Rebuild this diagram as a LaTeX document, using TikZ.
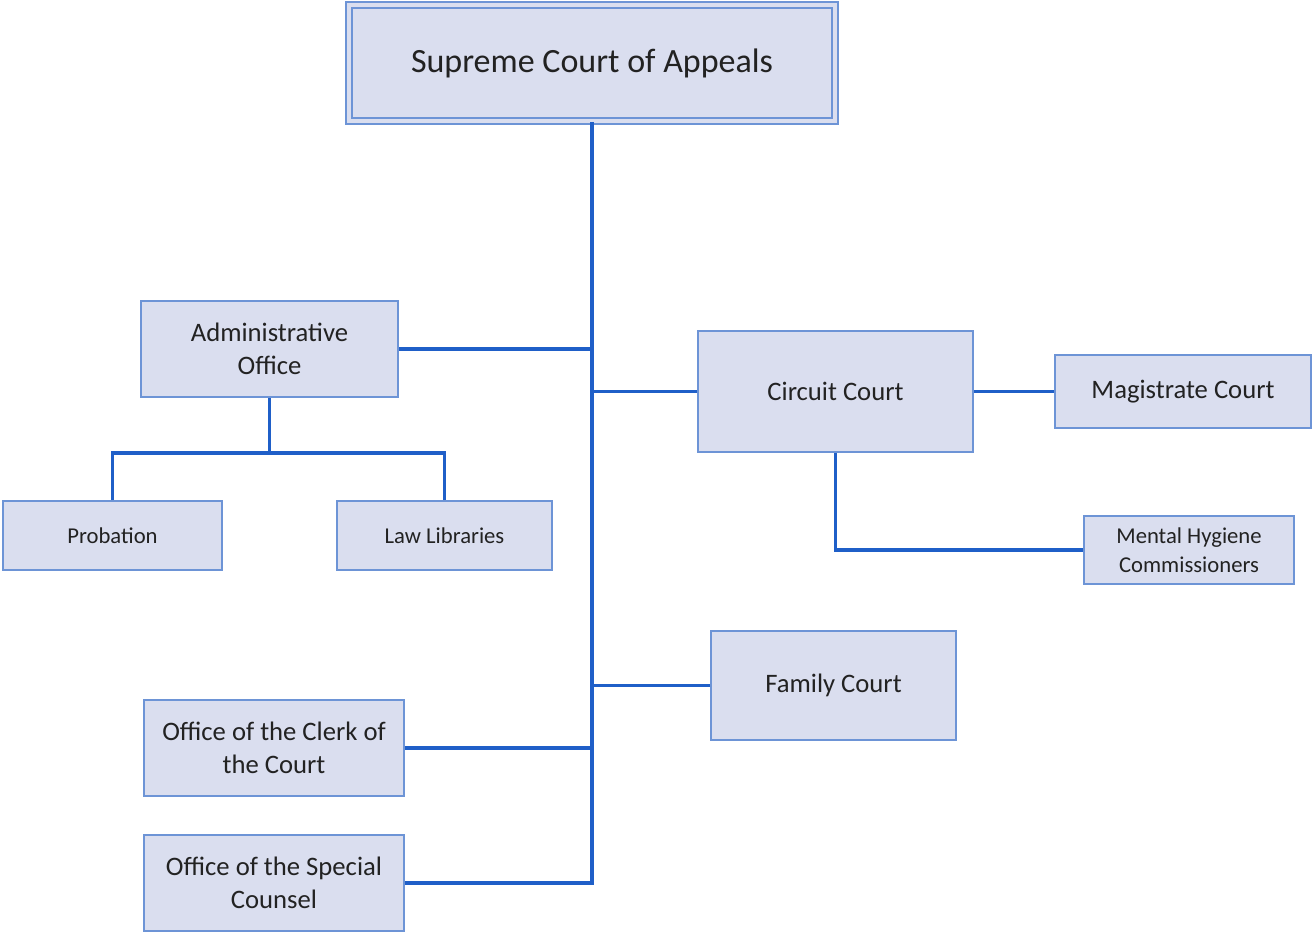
\documentclass[tikz,border=0pt]{standalone}
\usepackage{fontspec}
\setmainfont{Carlito}
\usepackage{tikz}
\usetikzlibrary{shadows}

\definecolor{boxfill}{HTML}{DADEEF}
\definecolor{boxline}{HTML}{6D94D6}
\definecolor{linkline}{HTML}{1F5FC8}
\definecolor{textgray}{HTML}{222222}

\tikzset{
  unit/.style = {draw = boxline, fill = boxfill, line width = 1.5pt, inner sep = 0pt,
                 align = center, text = textgray, font = \fontsize{20}{24.5}\selectfont},
  smallunit/.style = {unit, font = \fontsize{17}{21.5}\selectfont},
  link/.style = {draw = linkline, line width = 2.4pt}
}

\begin{document}
\begin{tikzpicture}[x = 0.75pt, y = -0.75pt]
            \useasboundingbox (0, 0) rectangle (1313, 934);
            % top of the tree
            \node [unit, double = boxfill, line width = 1.2pt, double distance = 3.3pt,
                   minimum width = 364.5pt, minimum height = 87pt,
                   font = \fontsize{25.5}{30}\selectfont,
                   drop shadow = {shadow xshift = 2pt, shadow yshift = -2.5pt, opacity = 0.45}]
                   (supreme) at (592, 63) {Supreme Court of Appeals};
            \node [unit, minimum width = 192.75pt, minimum height = 72pt] (admin) at (269.5, 349) {Administrative\\Office};
            \node [smallunit, minimum width = 164.25pt, minimum height = 51.75pt] (probation) at (112.5, 535.5) {Probation};
            \node [smallunit, minimum width = 161.25pt, minimum height = 51.75pt] (lawlib) at (444.5, 535.5) {Law Libraries};
            \node [unit, minimum width = 206.25pt, minimum height = 90.75pt] (circuit) at (835.5, 391.5) {Circuit Court};
            \node [unit, minimum width = 192pt, minimum height = 54.75pt] (magistrate) at (1183, 391.5) {Magistrate Court};
            \node [smallunit, minimum width = 157.5pt, minimum height = 51pt] (hygiene) at (1189, 550) {Mental Hygiene\\Commissioners};
            \node [unit, minimum width = 183.75pt, minimum height = 81.75pt] (family) at (833.5, 685.5) {Family Court};
            \node [unit, minimum width = 195pt, minimum height = 72pt] (clerk) at (274, 748) {Office of the Clerk of\\the Court};
            \node [unit, minimum width = 195pt, minimum height = 72pt] (counsel) at (274, 883) {Office of the Special\\Counsel};
            % connectors
            \coordinate (adminfork) at (269.5, 453);
            \draw [link] (supreme.south) |- (counsel.east);
            \draw [link] (admin.east) -- (admin.east -| supreme.south);
            \draw [link] (circuit.west) -- (circuit.west -| supreme.south);
            \draw [link] (family.west) -- (family.west -| supreme.south);
            \draw [link] (clerk.east) -- (clerk.east -| supreme.south);
            \draw [link] (admin.south) -- (adminfork);
            \draw [link] (probation.north) -- (probation.north |- adminfork) -- (lawlib.north |- adminfork) -- (lawlib.north);
            \draw [link] (circuit.east) -- (magistrate.west);
            \draw [link] (circuit.south) |- (hygiene.west);
        \end{tikzpicture}
\end{document}
